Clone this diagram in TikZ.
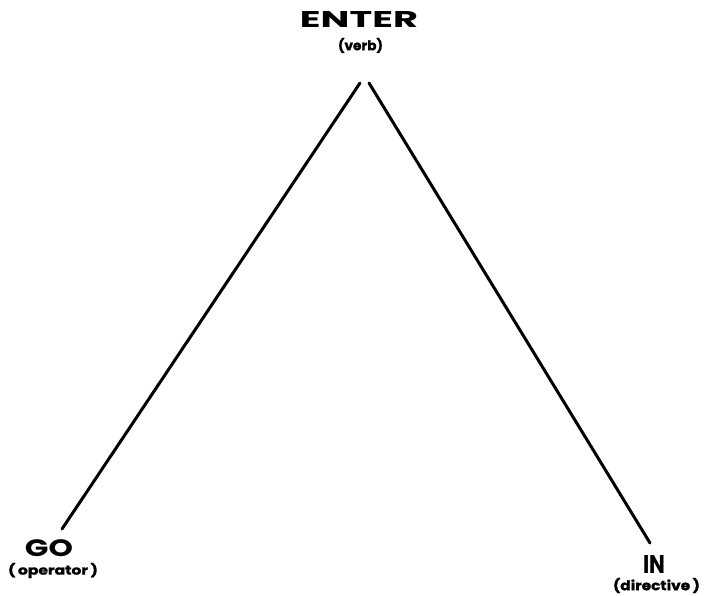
\documentclass[tikz,border=0pt]{standalone}
\usepackage{fontspec}
\usepackage{graphicx}
\newfontfamily\pf{Poppins}
\newfontfamily\pfheavy{Poppins}[FakeBold=1.2]
\newcommand{\fitlbl}[3]{\resizebox*{#1}{#2}{\pf\bfseries #3}}
\newcommand{\fitsub}[3]{\resizebox*{#1}{#2}{\pfheavy\bfseries #3}}
\begin{document}
\begin{tikzpicture}[x=1pt,y=-1pt,
  lbl/.style={inner sep=0pt, outer sep=0pt},
  edge/.style={line width=3pt, line cap=round, black}]
\useasboundingbox (0,0) rectangle (704,596);
\node[lbl] (enter) at (359,20) {\fitlbl{118pt}{16pt}{ENTER}};
\node[lbl] (verb) at (360.5,45.5) {\fitsub{45pt}{15pt}{(verb)}};
\node[lbl] (go) at (49,548.5) {\fitlbl{48pt}{17pt}{GO}};
\node[lbl] (op) at (53,570.5) {\fitsub{90pt}{15pt}{(\,operator\,)}};
\node[lbl] (in) at (654,564) {\fitlbl{22pt}{18pt}{IN}};
\node[lbl] (dir) at (656.5,585.5) {\fitsub{87pt}{15pt}{(directive\,)}};
\coordinate (ltop) at (360,83);
\coordinate (lbot) at (62,529);
\coordinate (rtop) at (369,83);
\coordinate (rbot) at (650,543);
\draw[edge] (ltop) -- (lbot);
\draw[edge] (rtop) -- (rbot);
\end{tikzpicture}
\end{document}
